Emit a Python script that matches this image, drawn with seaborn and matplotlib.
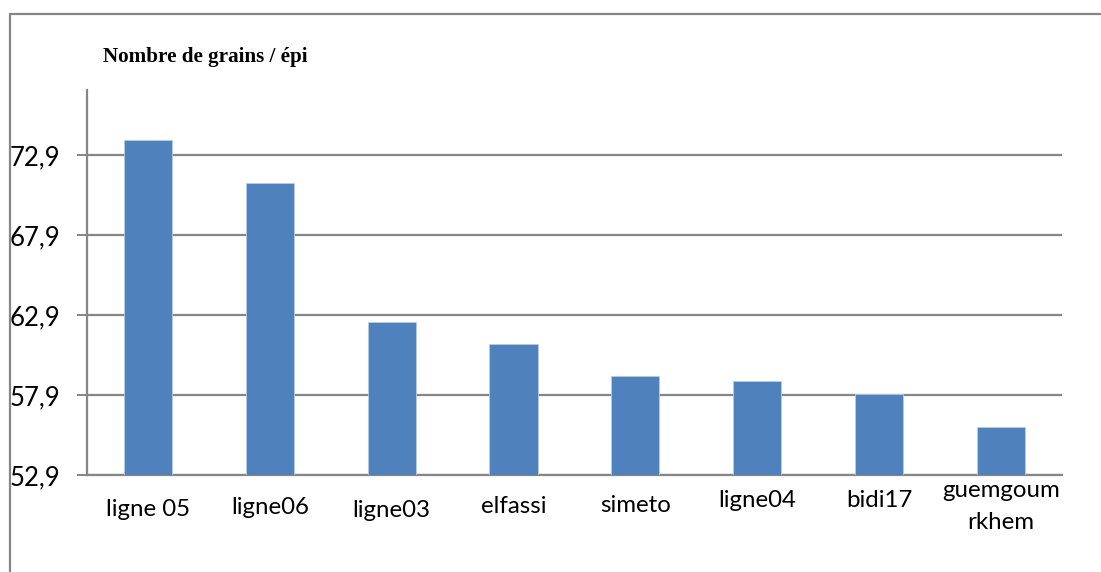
import matplotlib
matplotlib.use("Agg")
import matplotlib.pyplot as plt
import matplotlib.transforms as mtransforms
from matplotlib.lines import Line2D
import seaborn as sns
import pandas as pd

# Mean number of grains per ear for each wheat line / variety
varieties = ["ligne 05", "ligne06", "ligne03", "elfassi", "simeto",
             "ligne04", "bidi17", "guemgoum\nrkhem"]
grains_per_ear = [73.9, 71.2, 62.5, 61.1, 59.1, 58.8, 58.0, 55.9]
y_ticks = [52.9, 57.9, 62.9, 67.9, 72.9]
y_tick_labels = ["52,9", "57,9", "62,9", "67,9", "72,9"]

df = pd.DataFrame({"variety": varieties, "grains": grains_per_ear})

sns.set_theme(style="white")
plt.rcParams["font.family"] = ["Lato", "DejaVu Sans"]

fig = plt.figure(figsize=(11.01, 5.72), dpi=100)
ax = fig.add_axes([0.079, 0.1696, 0.8855, 0.6731])

sns.barplot(data=df, x="variety", y="grains", color="#4F81BD",
            saturation=1, width=0.395, ax=ax, zorder=3,
            edgecolor="#B9CDE5", linewidth=0.6)

ax.set_ylim(52.9, 77.0)
ax.set_xlim(-0.5, len(varieties) - 0.5)
ax.set_yticks(y_ticks)
ax.set_yticklabels(y_tick_labels, fontsize=18.5, color="#000000")
ax.yaxis.grid(True, color="#868686", linewidth=1.6, zorder=0)
ax.set_axisbelow(True)
ax.set_xlabel("")
ax.set_ylabel("")

for side in ("top", "right"):
    ax.spines[side].set_visible(False)
for side in ("left", "bottom"):
    ax.spines[side].set_color("#868686")
    ax.spines[side].set_linewidth(1.6)

ax.tick_params(axis="y", which="major", left=True, length=7, width=1.4,
               color="#868686", pad=12)
ax.tick_params(axis="x", bottom=False, pad=9)
ax.set_xticks(range(len(varieties)))
ax.set_xticklabels(varieties, fontsize=17.3, color="#000000", linespacing=1.65)

# Category labels sit at slightly different heights under each bar
label_shift_px = [-3, -1, -4, 0, 1, 6, 6, 16]
for lbl, dy in zip(ax.get_xticklabels(), label_shift_px):
    lbl.set_transform(lbl.get_transform() +
                      mtransforms.ScaledTranslation(0, dy / 100, fig.dpi_scale_trans))

fig.text(103 / 1101, 1 - 57 / 572, "Nombre de grains / épi",
         fontsize=15.2, fontweight="bold", family="Liberation Serif",
         ha="left", va="center", color="#000000")

# Outer chart-area frame (top and left edges)
frame_kw = dict(color="#868686", linewidth=1.6, transform=fig.transFigure)
fig.add_artist(Line2D([10 / 1101, 1.0], [1 - 14 / 572, 1 - 14 / 572], **frame_kw))
fig.add_artist(Line2D([10 / 1101, 10 / 1101], [0.0, 1 - 14 / 572], **frame_kw))

fig.savefig("out.png", dpi=100)
